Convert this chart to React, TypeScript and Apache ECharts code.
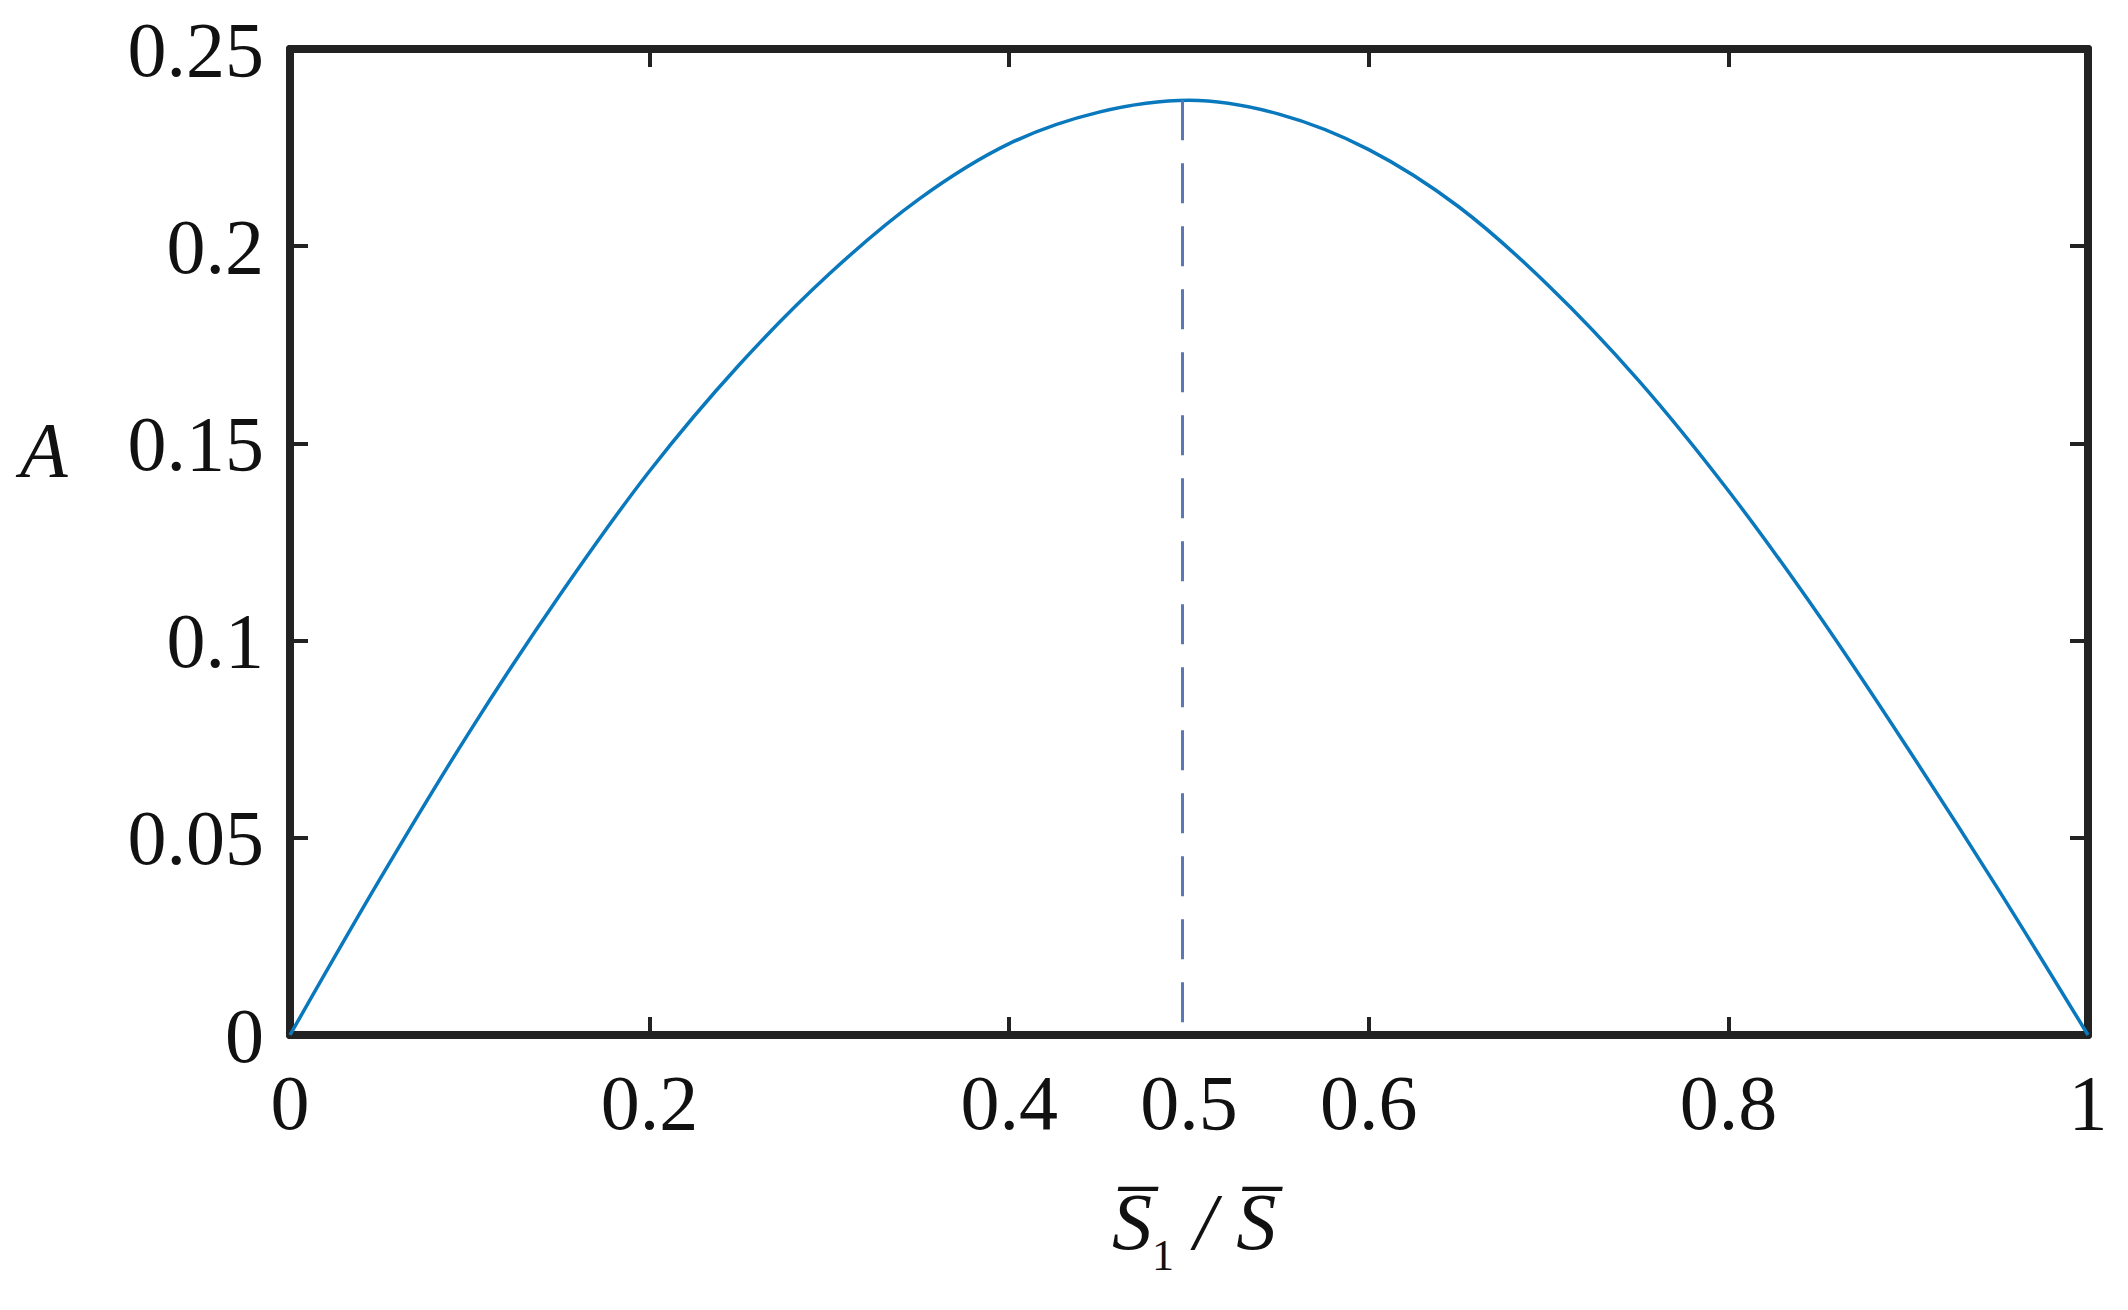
import React, { useEffect, useRef } from "react";
import * as echarts from "echarts";

const xValues = [0, 0.05, 0.1, 0.15, 0.2, 0.25, 0.3, 0.35, 0.4, 0.45, 0.5, 0.55, 0.6, 0.65, 0.7, 0.75, 0.8, 0.85, 0.9, 0.95, 1];
const aValues = [0, 0.0395, 0.077, 0.1115, 0.143, 0.17, 0.193, 0.212, 0.226, 0.234, 0.237, 0.2335, 0.2245, 0.21, 0.19, 0.166, 0.138, 0.1066, 0.0725, 0.037, 0];
const peakX = 0.496;
const peakA = 0.237;
const extraTick = 0.5;

const SERIF = "'Liberation Serif', 'Times New Roman', serif";
const AXIS_COLOR = "#222222";

export default function App() {
  const ref = useRef<HTMLDivElement>(null);
  useEffect(() => {
    const chart = echarts.init(ref.current!, null, { renderer: "svg" });
    const data = xValues.map((x, i) => [x, aValues[i]]);
    const tickLabel = { fontFamily: SERIF, fontSize: 78, color: "#111" };
    chart.setOption({
      animation: false,
      backgroundColor: "#ffffff",
      grid: { left: 290, right: 40, top: 49, bottom: 275 },
      xAxis: [
        {
          type: "value", min: 0, max: 1, interval: 0.2, position: "bottom",
          axisLine: { show: true, onZero: false, lineStyle: { color: AXIS_COLOR, width: 8 } },
          axisTick: { show: true, inside: true, length: 18, lineStyle: { color: AXIS_COLOR, width: 4 } },
          axisLabel: { ...tickLabel, margin: 28 },
          splitLine: { show: false },
        },
        {
          type: "value", min: 0, max: 1, interval: 0.2, position: "top",
          axisLine: { show: true, onZero: false, lineStyle: { color: AXIS_COLOR, width: 8 } },
          axisTick: { show: true, inside: true, length: 18, lineStyle: { color: AXIS_COLOR, width: 4 } },
          axisLabel: { show: false },
          splitLine: { show: false },
        },
        {
          type: "value", min: 0, max: 1, interval: 0.5, position: "bottom",
          axisLine: { show: false },
          axisTick: { show: false },
          axisLabel: {
            ...tickLabel, margin: 28,
            formatter: (v: number) => (Math.abs(v - extraTick) < 1e-9 ? String(extraTick) : ""),
          },
          splitLine: { show: false },
        },
      ],
      yAxis: [
        {
          type: "value", min: 0, max: 0.25, interval: 0.05, position: "left",
          axisLine: { show: true, onZero: false, lineStyle: { color: AXIS_COLOR, width: 8 } },
          axisTick: { show: true, inside: true, length: 18, lineStyle: { color: AXIS_COLOR, width: 4 } },
          axisLabel: { ...tickLabel, margin: 26 },
          splitLine: { show: false },
        },
        {
          type: "value", min: 0, max: 0.25, interval: 0.05, position: "right",
          axisLine: { show: true, onZero: false, lineStyle: { color: AXIS_COLOR, width: 8 } },
          axisTick: { show: true, inside: true, length: 18, lineStyle: { color: AXIS_COLOR, width: 4 } },
          axisLabel: { show: false },
          splitLine: { show: false },
        },
      ],
      series: [
        {
          type: "line",
          xAxisIndex: 0,
          yAxisIndex: 0,
          data,
          smooth: 0.35,
          showSymbol: false,
          lineStyle: { color: "#0a78bd", width: 3.5 },
          markLine: {
            silent: true,
            symbol: "none",
            label: { show: false },
            lineStyle: { color: "#5a78b4", width: 3, type: [40, 23] },
            data: [[{ coord: [peakX, peakA] }, { coord: [peakX, 0] }]],
          },
          z: 3,
        },
      ],
      graphic: [
        {
          type: "text",
          left: 20,
          top: 410,
          style: { text: "A", fontFamily: SERIF, fontStyle: "italic", fontSize: 78, fill: "#111" },
        },
        {
          type: "text",
          left: 1112,
          top: 1182,
          style: {
            text: "{s|S\u0305}{sub|1}{n| / }{s|S\u0305}",
            fontFamily: SERIF,
            fontSize: 80,
            fill: "#111",
            rich: {
              s: { fontFamily: SERIF, fontStyle: "italic", fontSize: 80, lineHeight: 90, fill: "#111" },
              sub: { fontFamily: SERIF, fontSize: 44, lineHeight: 110, verticalAlign: "bottom", fill: "#111" },
              n: { fontFamily: SERIF, fontStyle: "italic", fontSize: 80, lineHeight: 90, fill: "#111" },
            },
          },
        },
      ],
    });
    return () => chart.dispose();
  }, []);
  return (
    <div
      ref={ref}
      style={{ position: "absolute", left: 0, top: 0, width: 2128, height: 1310, background: "#fff" }}
    />
  );
}
